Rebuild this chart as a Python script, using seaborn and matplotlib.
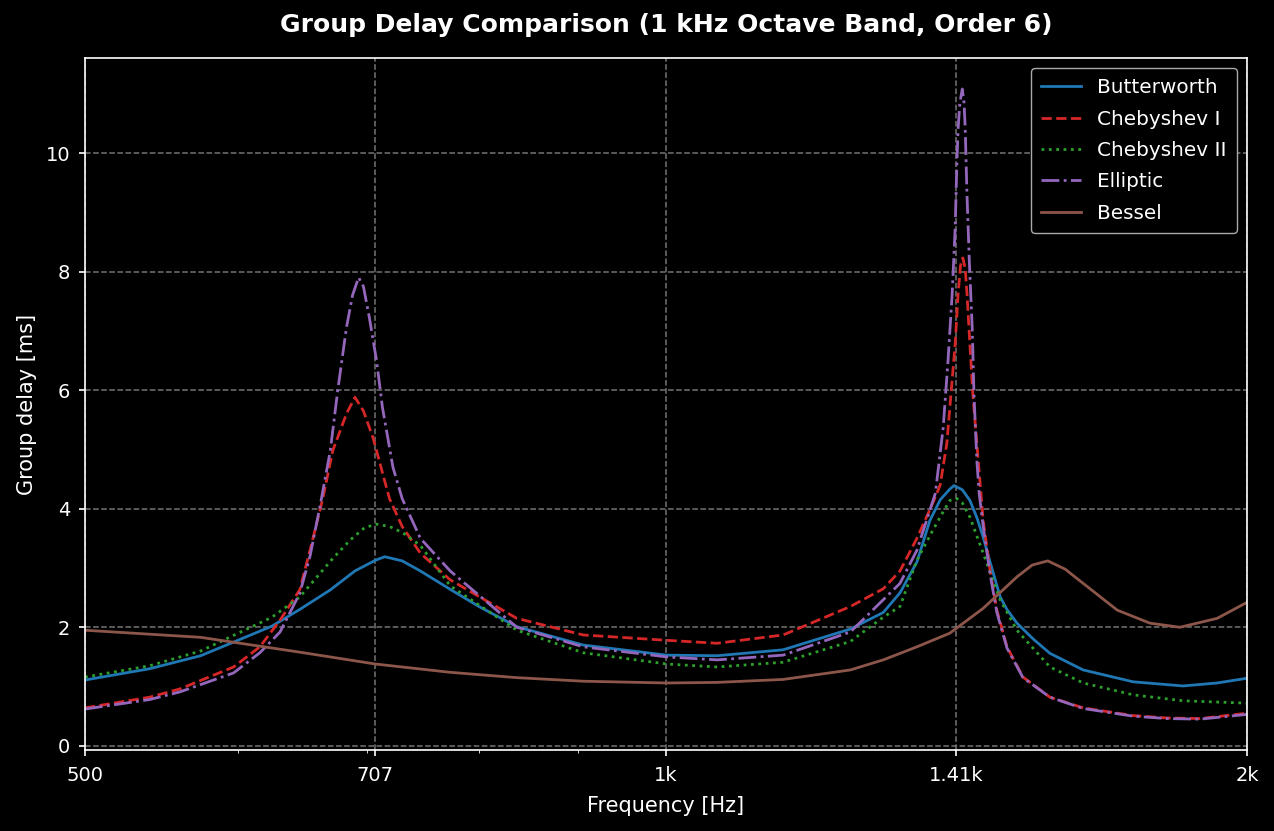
import seaborn as sns
import matplotlib.pyplot as plt
import matplotlib.ticker as mticker
import pandas as pd

# values (frequency in Hz, group delay in ms)
butter_f = [500, 540, 574, 597, 625, 646, 670, 690, 707, 715, 730, 746, 773, 800, 837, 906,
            1001, 1063, 1150, 1246, 1296, 1322, 1349, 1370, 1387, 1403, 1410, 1424, 1437, 1449,
            1460, 1472, 1490, 1502, 1520, 1550, 1581, 1645, 1746, 1853, 1930, 2000]
butter_ms = [1.11, 1.30, 1.52, 1.75, 2.02, 2.30, 2.63, 2.95, 3.13, 3.19, 3.12, 2.95, 2.64, 2.35, 2.01, 1.70,
             1.53, 1.52, 1.62, 1.97, 2.25, 2.58, 3.10, 3.80, 4.15, 4.33, 4.39, 4.32, 4.14, 3.85,
             3.52, 3.10, 2.51, 2.30, 2.07, 1.80, 1.56, 1.28, 1.08, 1.01, 1.06, 1.14]

cheby1_f = [500, 540, 560, 597, 616, 631, 646, 654, 664, 672, 683, 690, 697, 705, 719, 730,
            746, 773, 837, 906, 1001, 1063, 1150, 1246, 1296, 1322, 1349, 1375, 1387, 1398,
            1405, 1412, 1417, 1421, 1425, 1429, 1432, 1437, 1442, 1449, 1456, 1460, 1472, 1484,
            1502, 1531, 1581, 1645, 1746, 1818, 1891, 2000]
cheby1_ms = [0.64, 0.82, 0.96, 1.33, 1.67, 2.12, 2.63, 3.30, 4.17, 4.98, 5.60, 5.88, 5.65, 5.20, 4.17, 3.70,
             3.25, 2.80, 2.15, 1.87, 1.78, 1.73, 1.87, 2.35, 2.65, 2.95, 3.50, 4.10, 4.40, 5.10,
             5.94, 6.78, 7.63, 8.10, 8.23, 8.05, 7.63, 6.78, 5.94, 5.10, 4.26, 3.80, 2.96, 2.29,
             1.67, 1.16, 0.82, 0.64, 0.51, 0.47, 0.46, 0.55]

cheby2_f = [500, 540, 574, 625, 646, 672, 686, 698, 708, 719, 730, 746, 773, 837, 906, 1001,
            1063, 1150, 1246, 1296, 1322, 1349, 1375, 1392, 1403, 1415, 1424, 1437, 1460, 1490,
            1520, 1581, 1645, 1746, 1853, 2000]
cheby2_ms = [1.16, 1.35, 1.60, 2.17, 2.51, 3.16, 3.47, 3.68, 3.74, 3.70, 3.60, 3.38, 2.70, 1.95, 1.57, 1.38,
             1.33, 1.41, 1.76, 2.17, 2.35, 3.13, 3.64, 3.95, 4.14, 4.17, 4.10, 3.86, 3.25, 2.46,
             1.95, 1.33, 1.06, 0.86, 0.76, 0.72]

ellip_f = [500, 540, 560, 597, 616, 631, 646, 654, 662, 670, 676, 683, 688, 693, 697, 702,
           708, 713, 722, 730, 746, 773, 837, 906, 1001, 1063, 1150, 1246, 1322, 1349,
           1379, 1392, 1400, 1407, 1412, 1415, 1417, 1420, 1424, 1427, 1429, 1432, 1436, 1441,
           1444, 1449, 1453, 1460, 1472, 1484, 1502, 1531, 1581, 1645, 1746, 1818, 1891, 2000]
ellip_ms = [0.62, 0.78, 0.91, 1.23, 1.57, 1.92, 2.57, 3.20, 4.06, 4.98, 6.00, 7.05, 7.60, 7.90, 7.75, 7.22,
            6.50, 5.71, 4.70, 4.17, 3.50, 2.95, 2.00, 1.67, 1.50, 1.45, 1.53, 1.92, 2.74, 3.30,
            4.26, 5.37, 6.50, 7.63, 8.74, 9.87, 10.42, 10.85, 11.08, 10.85, 10.42, 9.31, 8.18, 7.05,
            5.94, 4.81, 4.26, 3.70, 2.90, 2.25, 1.65, 1.15, 0.82, 0.63, 0.50, 0.46, 0.45, 0.53]

bessel_f = [500, 574, 646, 707, 773, 837, 906, 1001, 1063, 1150, 1246, 1296, 1349, 1403, 1460,
            1520, 1548, 1577, 1610, 1645, 1713, 1781, 1846, 1930, 2000]
bessel_ms = [1.95, 1.83, 1.58, 1.38, 1.24, 1.15, 1.09, 1.06, 1.07, 1.12, 1.28, 1.45, 1.67, 1.90, 2.32,
             2.85, 3.05, 3.12, 2.98, 2.74, 2.29, 2.07, 2.00, 2.15, 2.42]

tick_freqs = [500, 707, 1000, 1414, 2000]
tick_labels = ["500", "707", "1k", "1.41k", "2k"]

series = [
    ("Butterworth", butter_f, butter_ms, "#1f77b4", "-"),
    ("Chebyshev I", cheby1_f, cheby1_ms, "#d62728", "--"),
    ("Chebyshev II", cheby2_f, cheby2_ms, "#2ca02c", ":"),
    ("Elliptic", ellip_f, ellip_ms, "#9467bd", "-."),
    ("Bessel", bessel_f, bessel_ms, "#8c564b", "-"),
]

plt.style.use("dark_background")
plt.rcParams["axes.linewidth"] = 1.2
fig, ax = plt.subplots(figsize=(12.74, 8.31), dpi=100)
fig.subplots_adjust(left=0.0667, right=0.9788, top=0.930, bottom=0.0975)

for name, f, ms, color, ls in series:
    df = pd.DataFrame({"freq": f, "delay": ms})
    sns.lineplot(data=df, x="freq", y="delay", ax=ax, color=color, linestyle=ls,
                 linewidth=2.0, label=name, sort=True, estimator=None)

ax.set_xscale("log")
ax.set_xlim(500, 2000)
ax.set_ylim(-0.07, 11.6)
ax.xaxis.set_major_locator(mticker.FixedLocator(tick_freqs))
ax.xaxis.set_major_formatter(mticker.FixedFormatter(tick_labels))
ax.xaxis.set_minor_formatter(mticker.NullFormatter())
ax.tick_params(labelsize=14, width=1.2, length=4.5)
ax.tick_params(axis="x", pad=7)
ax.tick_params(axis="y", pad=6)

ax.grid(True, which="major", linestyle="--", color="gray", linewidth=1.1, alpha=0.9)
ax.set_xlabel("Frequency [Hz]", fontsize=15, labelpad=8)
ax.set_ylabel("Group delay [ms]", fontsize=15, labelpad=6)
ax.set_title("Group Delay Comparison (1 kHz Octave Band, Order 6)", fontsize=18,
             fontweight="bold", pad=19)
leg = ax.legend(loc="upper right", fontsize=14.4, framealpha=1.0, facecolor="black",
                labelspacing=0.62, borderpad=0.5)
leg.get_frame().set_edgecolor("#aaaaaa")

plt.savefig("out.png", dpi=100)
plt.close()
